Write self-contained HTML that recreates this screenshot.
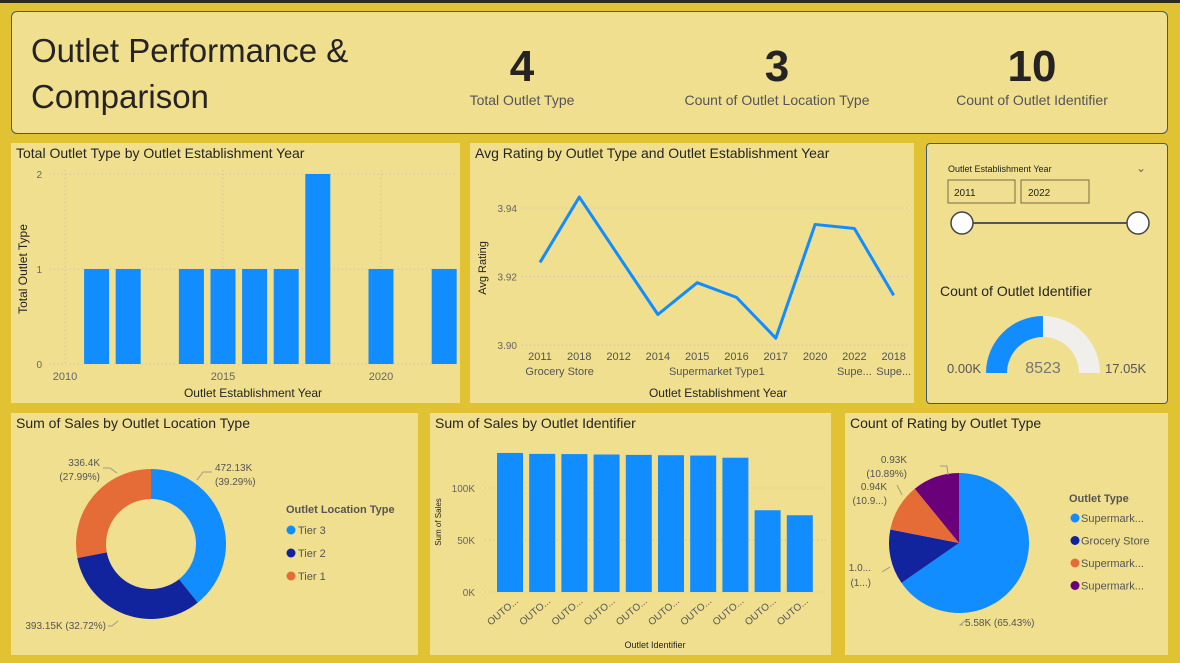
<!DOCTYPE html>
<html><head><meta charset="utf-8">
<style>
body{margin:0;width:1180px;height:663px;background:#e1c232;font-family:"Liberation Sans",sans-serif;overflow:hidden;position:relative}
.p{position:absolute;background:#efdf8f}
.t{position:absolute;left:5px;top:2px;font-size:14px;color:#252423}
svg{position:absolute;left:0;top:0}
text{font-family:"Liberation Sans",sans-serif}
</style></head><body>
<div style="position:absolute;left:0;top:0;width:1180px;height:3px;background:#2b2a22"></div>
<div class="p" style="left:11px;top:11px;width:1155px;height:121px;border:1px solid #3d5a78;border-radius:6px">
 <div style="position:absolute;left:19px;top:16px;font-size:33px;line-height:46px;color:#252423">Outlet Performance &amp;<br>Comparison</div>
 <div style="position:absolute;left:440px;top:30px;width:140px;text-align:center;color:#252423"><div style="font-size:44px;font-weight:bold;line-height:50px">4</div><div style="font-size:14px;color:#555">Total Outlet Type</div></div>
 <div style="position:absolute;left:655px;top:30px;width:220px;text-align:center;color:#252423"><div style="font-size:44px;font-weight:bold;line-height:50px">3</div><div style="font-size:14px;color:#555">Count of Outlet Location Type</div></div>
 <div style="position:absolute;left:920px;top:30px;width:200px;text-align:center;color:#252423"><div style="font-size:44px;font-weight:bold;line-height:50px">10</div><div style="font-size:14px;color:#555">Count of Outlet Identifier</div></div>
</div>

<div class="p" style="left:11px;top:143px;width:449px;height:260px"><div class="t">Total Outlet Type by Outlet Establishment Year</div></div>
<div class="p" style="left:470px;top:143px;width:444px;height:260px"><div class="t">Avg Rating by Outlet Type and Outlet Establishment Year</div></div>
<div class="p" style="left:926px;top:143px;width:240px;height:259px;border:1px solid #3d5a78;border-radius:4px"></div>
<div class="p" style="left:11px;top:413px;width:407px;height:242px"><div class="t">Sum of Sales by Outlet Location Type</div></div>
<div class="p" style="left:430px;top:413px;width:401px;height:242px"><div class="t">Sum of Sales by Outlet Identifier</div></div>
<div class="p" style="left:845px;top:413px;width:323px;height:242px"><div class="t">Count of Rating by Outlet Type</div></div>

<svg id="s" width="1180" height="663"></svg>
<script>
// Chart 1
const c1Years=[2011,2012,2014,2015,2016,2017,2018,2020,2022];
const c1Vals=[1,1,1,1,1,1,2,1,1];
const c1XTicks=[2010,2015,2020];
const c1YTicks=[0,1,2];
// Chart 2
const c2Years=['2011','2018','2012','2014','2015','2016','2017','2020','2022','2018'];
const c2Vals=[3.9241,3.9432,3.926,3.9089,3.9182,3.9139,3.902,3.9352,3.934,3.9145];
const c2Groups=[['Grocery Store',0,1],['Supermarket Type1',2,7],['Supe...',8,8],['Supe...',9,9]];
const c2YTicks=[3.90,3.92,3.94];
// Chart 4
const c4Cats=['Tier 3','Tier 2','Tier 1'];
const c4Vals=[472.13,393.15,336.4];
const c4Labels=['472.13K\n(39.29%)','393.15K (32.72%)','336.4K\n(27.99%)'];
// Chart 5
const c5Ids=['OUTO...','OUTO...','OUTO...','OUTO...','OUTO...','OUTO...','OUTO...','OUTO...','OUTO...','OUTO...'];
const c5Vals=[133.7,132.8,132.6,132.2,131.8,131.5,131.2,129.1,78.6,73.8];
const c5YTicks=[0,50,100];
// Chart 6
const c6Cats=['Supermark...','Grocery Store','Supermark...','Supermark...'];
const c6Vals=[5.58,1.09,0.94,0.93];
// Gauge
const gaugeVal=8523, gaugeMax=17050;

const NS='http://www.w3.org/2000/svg', S=document.getElementById('s');
function mk(tag,at,parent){const e=document.createElementNS(NS,tag);for(const k in at)e.setAttribute(k,at[k]);(parent||S).appendChild(e);return e;}
function tx(x,y,s,sz,fill,anchor,extra){const e=mk('text',Object.assign({x:x,y:y,'font-size':sz,fill:fill,'text-anchor':anchor||'start'},extra||{}));e.textContent=s;return e;}
const BLUE='#118dff',NAVY='#12239e',ORANGE='#e66c37',PURPLE='#6b007b';

// ---- Chart 1
const x1=y=>65+(y-2010)*31.6, y1=v=>364-v*95;
c1YTicks.forEach(v=>{const l=mk('line',{x1:50,x2:456,y1:y1(v),y2:y1(v),stroke:'#c8c0a0','stroke-dasharray':'1,3'});
 const t=tx(42,y1(v)+4,v,10,'#666','end');});
c1XTicks.forEach(v=>{const l=mk('line',{x1:x1(v),x2:x1(v),y1:170,y2:364,stroke:'#c8c0a0','stroke-dasharray':'1,3'});
 const t=tx(x1(v),380,v,11,'#666','middle');});
c1Years.forEach((y,i)=>{const r=mk('rect',{x:x1(y)-12.5,y:y1(c1Vals[i]),width:25,height:364-y1(c1Vals[i]),fill:BLUE});});
let t=tx(253,397,'Outlet Establishment Year',12,'#252423','middle');
t=tx(0,0,'Total Outlet Type',12,'#252423','middle',{transform:'translate(27,269) rotate(-90)'});

// ---- Chart 2
const x2=i=>540+i*39.3, y2=v=>345-(v-3.90)*3425;
c2YTicks.forEach(v=>{const l=mk('line',{x1:522,x2:910,y1:y2(v),y2:y2(v),stroke:'#c8c0a0','stroke-dasharray':'1,3'});
 const t=tx(517,y2(v)+4,v.toFixed(2),10,'#666','end');});
c2Years.forEach((y,i)=>{const t=tx(x2(i),360,y,11,'#555','middle');});
c2Groups.forEach(g=>{const t=tx((x2(g[1])+x2(g[2]))/2,375,g[0],11,'#555','middle');});
const pl=mk('polyline',{points:c2Vals.map((v,i)=>x2(i)+','+y2(v)).join(' '),fill:'none',stroke:BLUE,'stroke-width':3,'stroke-linejoin':'round'});

t=tx(718,397,'Outlet Establishment Year',12,'#252423','middle');
t=tx(0,0,'Avg Rating',11,'#252423','middle',{transform:'translate(486,268) rotate(-90)'});

// ---- Slicer + gauge
t=tx(948,172,'Outlet Establishment Year',9,'#252423');
t=tx(1141,172,'⌄',12,'#666','middle');
let r=mk('rect',{x:948,y:180,width:67,height:23,fill:'none',stroke:'#7a6d45'});
t=tx(954,196,'2011',10,'#252423');
r=mk('rect',{x:1021,y:180,width:68,height:23,fill:'none',stroke:'#7a6d45'});
t=tx(1028,196,'2022',10,'#252423');
r=mk('line',{x1:962,x2:1138,y1:223,y2:223,stroke:'#555','stroke-width':2});
[962,1138].forEach((cx,i)=>{const c=mk('circle',{cx:cx,cy:223,r:11,fill:'#fff',stroke:'#444','stroke-width':1.5});});
t=tx(940,296,'Count of Outlet Identifier',14,'#252423');
const gc=[1043,373],ro=57,ri=36;
function arc(a0,a1,fill){const p=(a,r)=>[gc[0]-Math.cos(a)*r,gc[1]-Math.sin(a)*r];const A=p(a0,ro),B=p(a1,ro),C=p(a1,ri),D=p(a0,ri);
 return mk('path',{d:`M${A} A${ro},${ro} 0 0 1 ${B} L${C} A${ri},${ri} 0 0 0 ${D}Z`,fill:fill});}
const fa=Math.PI*gaugeVal/gaugeMax;
let g=arc(0,fa,BLUE);
g=arc(fa,Math.PI,'#f0efec');
t=tx(1043,373,String(gaugeVal),16,'#777','middle');
t=tx(981,373,'0.00K',13,'#555','end');
t=tx(1105,373,(gaugeMax/1000).toFixed(2)+'K',13,'#555');

// ---- Pie helper
function pie(cx,cy,ro,ri,vals,cols,name){const tot=vals.reduce((a,b)=>a+b,0);let a=-Math.PI/2;const mids=[];
 vals.forEach((v,i)=>{const b=a+v/tot*2*Math.PI,lg=(b-a)>Math.PI?1:0;const P=(ang,r)=>(cx+Math.cos(ang)*r)+','+(cy+Math.sin(ang)*r);
  const d=ri>0?`M${P(a,ro)} A${ro},${ro} 0 ${lg} 1 ${P(b,ro)} L${P(b,ri)} A${ri},${ri} 0 ${lg} 0 ${P(a,ri)}Z`:`M${cx},${cy} L${P(a,ro)} A${ro},${ro} 0 ${lg} 1 ${P(b,ro)}Z`;
  const s=mk('path',{d:d,fill:cols[i]});mids.push((a+b)/2);a=b;});return mids;}
// Chart 4
const c4Cols=[BLUE,NAVY,ORANGE];
pie(151,544,75,45,c4Vals,c4Cols,'c4');
[[215,471,'472.13K'],[215,485,'(39.29%)']].forEach(a=>{const t=tx(a[0],a[1],a[2],10,'#555');});
[[100,466,'336.4K'],[100,480,'(27.99%)']].forEach(a=>{const t=tx(a[0],a[1],a[2],10,'#555','end');});
t=tx(106,629,'393.15K (32.72%)',10,'#555','end');
[['M197,480 L203,472 L212,472'],['M117,473 L110,468 L103,468'],['M118,621 L112,626 L108,626']].forEach(d=>{const l=mk('path',{d:d[0],fill:'none',stroke:'#a09a80'});});
t=tx(286,513,'Outlet Location Type',11,'#555','start',{'font-weight':'bold'});
c4Cats.forEach((c,i)=>{const y=530+i*23;const d=mk('circle',{cx:291,cy:y,r:4.5,fill:c4Cols[i]});
 const t=tx(298,y+4,c,11,'#555');});

// ---- Chart 5
const x5=i=>497+i*32.2, y5=v=>592-v*1.04;
c5YTicks.forEach(v=>{const l=mk('line',{x1:485,x2:827,y1:y5(v),y2:y5(v),stroke:'#c8c0a0','stroke-dasharray':'1,3'});
 const t=tx(475,y5(v)+4,v+'K',10,'#666','end');});
c5Vals.forEach((v,i)=>{const r=mk('rect',{x:x5(i),y:y5(v),width:26,height:592-y5(v),fill:BLUE});
 const t=tx(0,0,c5Ids[i],10,'#555','end',{transform:`translate(${x5(i)+22},602) rotate(-40)`});});
t=tx(655,648,'Outlet Identifier',9,'#252423','middle');
t=tx(0,0,'Sum of Sales',8,'#252423','middle',{transform:'translate(441,522) rotate(-90)'});

// ---- Chart 6
const c6Cols=[BLUE,NAVY,ORANGE,PURPLE];
pie(959,543,70,0,c6Vals,c6Cols,'c6');
[[907,463,'0.93K','end'],[907,477,'(10.89%)','end'],[887,490,'0.94K','end'],[887,504,'(10.9...)','end'],[871,571,'1.0...','end'],[871,586,'(1...)','end'],[965,626,'5.58K (65.43%)','start']].forEach(a=>{const t=tx(a[0]+(a[3]==='end'?0:0),a[1],a[2],10,'#555',a[3]);});
['M948,475 L947,466 L940,466','M902,495 L897,485','M890,567 L882,572','M966,620 L960,625 L963,625'].forEach(d=>{const l=mk('path',{d:d,fill:'none',stroke:'#a09a80'});});
t=tx(1069,502,'Outlet Type',11,'#555','start',{'font-weight':'bold'});
c6Cats.forEach((c,i)=>{const y=518+i*22.5;const d=mk('circle',{cx:1075,cy:y,r:4.5,fill:c6Cols[i]});
 const t=tx(1081,y+4,c,11,'#555');});
</script>
</body></html>
